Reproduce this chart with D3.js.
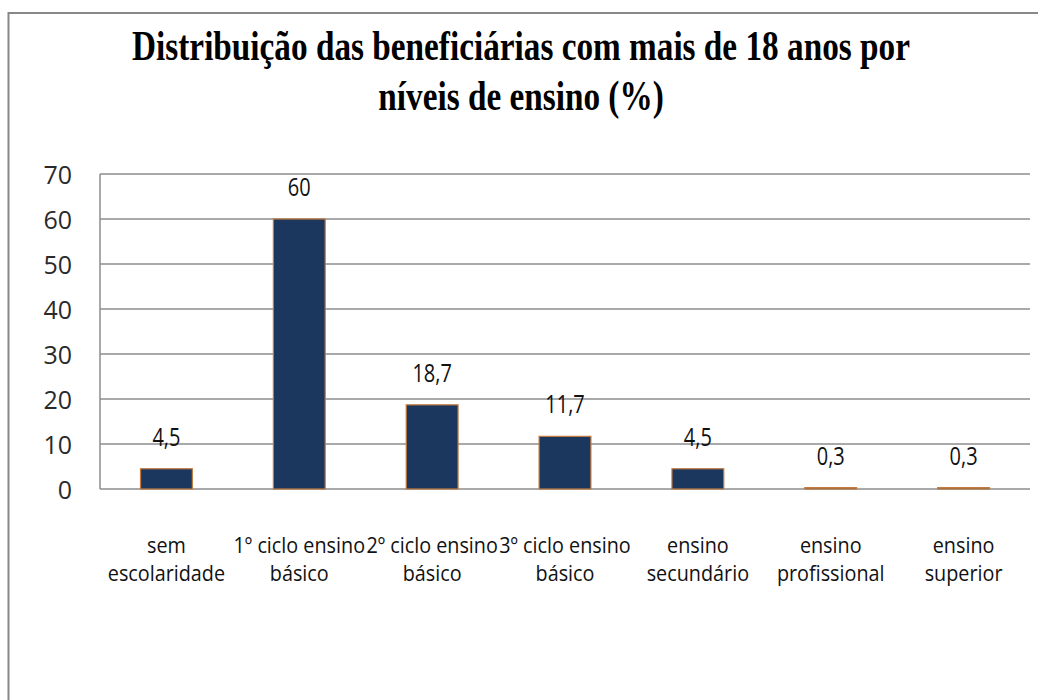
<!DOCTYPE html>
<html>
<head>
<meta charset="utf-8">
<script src="https://cdn.jsdelivr.net/npm/d3@7"></script>
<style>
  body { margin: 0; background: #fff; }
  svg { display: block; }
</style>
</head>
<body>
<div id="chart"></div>
<script>
// Distribuição das beneficiárias por níveis de ensino

var categories = [ "sem escolaridade", "1º ciclo ensino básico", "2º ciclo ensino básico",
    "3º ciclo ensino básico", "ensino secundário", "ensino profissional", "ensino superior" ];
var values = [ 4.5, 60, 18.7, 11.7, 4.5, 0.3, 0.3 ];
var yTicks = [ 0, 10, 20, 30, 40, 50, 60, 70 ];
var titleLines = [ "Distribuição das beneficiárias com mais de 18 anos por", "níveis de ensino (%)" ];

var WIDTH = 1038;
var HEIGHT = 700;

var LEFT = 100;
var RIGHT = 1030;
var TOP = 174;
var BOTTOM = 489;

var BAR_FILL = "#1b375e";
var BAR_STROKE = "#c27a3e";
var GRID = "#8c8c8c";

var pt = d3.formatLocale({ decimal: ",", thousands: ".", grouping: [3], currency: ["", "€"] });
var fmt = function(v) { return pt.format("~g")(v); };

var svg = d3.select("#chart").append("svg")
    .attr("width", WIDTH)
    .attr("height", HEIGHT);

// outer frame (runs off the right and bottom edges)
svg.append("path")
    .attr("d", "M8.5,700 V13 H1038")
    .attr("fill", "none")
    .attr("stroke", "#888")
    .attr("stroke-width", 2);

// title - squeezed horizontally to the width of the original
var TITLE_W = 778;
var tg = svg.append("g")
    .attr("transform", "translate(521,0)");
var tt = tg.selectAll("text")
    .data(titleLines)
    .enter()
    .append("text")
    .attr("text-anchor", "middle")
    .attr("font-family", "'Liberation Serif', 'Times New Roman', serif")
    .attr("font-weight", "bold")
    .attr("font-size", 42)
    .text(function(d) { return d; });
var squeeze = TITLE_W / tt.node().getComputedTextLength();
tt.attr("transform", function(d, i) {
    return "translate(0," + (60 + i * 50) + ") scale(" + squeeze + ",1)";
});

var x = d3.scaleBand()
    .domain(categories)
    .range([ LEFT, RIGHT ])
    .paddingInner(0.61)
    .paddingOuter(0.305);

var y = d3.scaleLinear()
    .domain([ 0, 70 ])
    .range([ BOTTOM, TOP ]);

// gridlines
svg.append("g")
    .selectAll("line")
    .data(yTicks)
    .enter()
    .append("line")
    .attr("x1", LEFT)
    .attr("x2", RIGHT)
    .attr("y1", function(d) { return y(d); })
    .attr("y2", function(d) { return y(d); })
    .attr("stroke", GRID)
    .attr("stroke-width", 1.5);

// left axis line
svg.append("line")
    .attr("x1", LEFT)
    .attr("x2", LEFT)
    .attr("y1", y(70))
    .attr("y2", y(0))
    .attr("stroke", GRID)
    .attr("stroke-width", 1.5);

// y axis labels
var yAxis = d3.axisLeft(y).tickValues(yTicks).tickSize(0).tickPadding(28);
var yg = svg.append("g")
    .attr("transform", "translate(" + LEFT + ",0)")
    .call(yAxis);
yg.select(".domain").remove();
yg.selectAll("text")
    .attr("font-family", "'Open Sans', sans-serif")
    .attr("font-size", 25)
    .attr("fill", "#2a2a2a")
    .attr("dy", "0.36em");

// bars
svg.append("g")
    .selectAll("rect")
    .data(values)
    .enter()
    .append("rect")
    .attr("x", function(d, i) { return x(categories[i]); })
    .attr("y", function(d) { return y(d); })
    .attr("width", x.bandwidth())
    .attr("height", function(d) { return y(0) - y(d); })
    .attr("fill", BAR_FILL)
    .attr("stroke", BAR_STROKE)
    .attr("stroke-width", 1.2);

// value labels
svg.append("g")
    .selectAll("text")
    .data(values)
    .enter()
    .append("text")
    .attr("transform", function(d, i) {
        var cx = x(categories[i]) + x.bandwidth() / 2;
        return "translate(" + cx + "," + (y(d) - 23) + ") scale(0.8,1)";
    })
    .attr("text-anchor", "middle")
    .attr("font-family", "'Open Sans', sans-serif")
    .attr("font-size", 25)
    .attr("fill", "#111")
    .text(fmt);

// category labels, split at the last space
function catLines(c) {
    var k = c.lastIndexOf(" ");
    return [ c.slice(0, k), c.slice(k + 1) ];
}

var cg = svg.append("g")
    .selectAll("g")
    .data(categories)
    .enter()
    .append("g")
    .attr("transform", function(d) {
        return "translate(" + (x(d) + x.bandwidth() / 2) + ",0)";
    });

cg.each(function(d) {
    var lines = catLines(d);
    for (var l = 0; l < lines.length; l++) {
        d3.select(this).append("text")
            .attr("transform", "translate(0," + (553 + l * 28) + ") scale(0.9,1)")
            .attr("text-anchor", "middle")
            .attr("font-family", "'Open Sans', sans-serif")
            .attr("font-size", 22)
            .attr("fill", "#111")
            .text(lines[l]);
    }
});
</script>
</body>
</html>
